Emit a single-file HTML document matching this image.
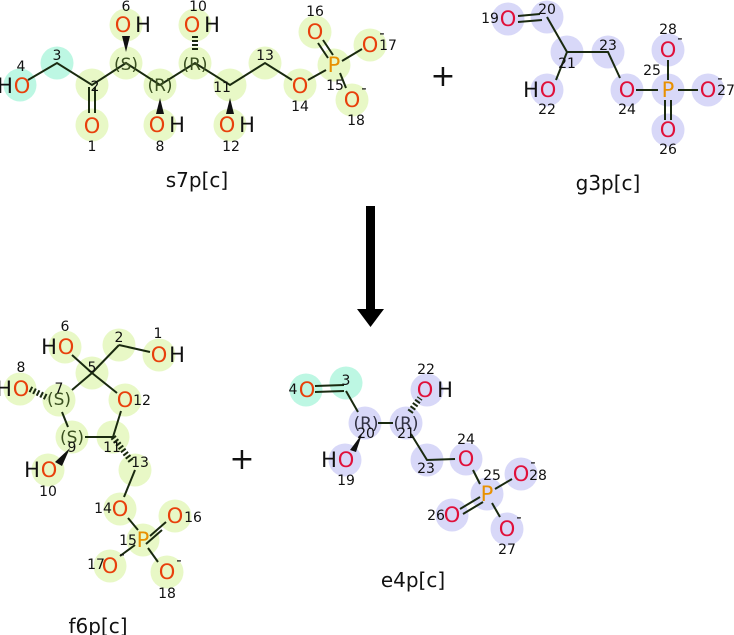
<!DOCTYPE html><html><head><style>body{margin:0;background:#fff}svg{display:block}
text{font-family:"DejaVu Sans","Liberation Sans",sans-serif}
.a{font-size:21px;text-anchor:middle;dominant-baseline:central}
.n{font-size:14px;fill:#111;text-anchor:middle;dominant-baseline:central}
.o{fill:#e8400c}.r{fill:#e0103a}.p{fill:#e89000}.k{fill:#111}.s{font-size:17px;fill:#3a5020;text-anchor:middle;dominant-baseline:central}
.t{font-size:20px;text-anchor:middle;fill:#111}
.g{fill:#e8f8c6}.c{fill:#bdf7e3}.b{fill:#d8d8f8}
circle{r:16.5px}
line,polyline{stroke:#1a2a10;stroke-width:2;fill:none}
</style></head><body>
<svg width="734" height="635" viewBox="0 0 734 635">
<!-- s7p -->
<g>
<circle class="c" cx="20" cy="85" r="16.5"/><circle class="c" cx="57" cy="63" r="16.5"/>
<circle class="g" cx="92" cy="85" r="16.5"/><circle class="g" cx="92" cy="125" r="16.5"/>
<circle class="g" cx="126" cy="63" r="16.5"/><circle class="g" cx="126" cy="25" r="16.5"/>
<circle class="g" cx="160" cy="85" r="16.5"/><circle class="g" cx="160" cy="125" r="16.5"/>
<circle class="g" cx="195" cy="63" r="16.5"/><circle class="g" cx="195" cy="25" r="16.5"/>
<circle class="g" cx="230" cy="85" r="16.5"/><circle class="g" cx="230" cy="125" r="16.5"/>
<circle class="g" cx="265" cy="63" r="16.5"/><circle class="g" cx="300" cy="85" r="16.5"/>
<circle class="g" cx="334" cy="65" r="16.5"/><circle class="g" cx="315" cy="32" r="16.5"/>
<circle class="g" cx="370" cy="45" r="16.5"/><circle class="g" cx="352" cy="100" r="16.5"/>
<polyline points="28,80 57,63 92,85 126,63 160,85 195,63 230,85 265,63 292,80"/>
<line x1="89" y1="87" x2="89" y2="113"/><line x1="95" y1="87" x2="95" y2="113"/>
<polygon points="126,52 122,36 130,36" fill="#111"/>
<polygon points="160,98 156,114 164,114" fill="#111"/>
<polygon points="230,98 226,114 234,114" fill="#111"/>
<line x1="195" y1="36" x2="195" y2="52" stroke-dasharray="2,2" style="stroke-width:6"/>
<line x1="308" y1="80" x2="326" y2="70"/><line x1="342" y1="61" x2="362" y2="49"/>
<line x1="340" y1="73" x2="346" y2="88"/>
<line x1="318" y1="43" x2="328" y2="58"/><line x1="323" y1="40" x2="333" y2="55"/>
<text class="a k" x="5" y="86">H</text><text class="a o" x="22" y="86">O</text>
<text class="a o" x="92" y="126">O</text>
<text class="a o" x="123" y="25">O</text><text class="a k" x="143" y="25">H</text>
<text class="a o" x="157" y="125">O</text><text class="a k" x="177" y="125">H</text>
<text class="a o" x="192" y="25">O</text><text class="a k" x="212" y="25">H</text>
<text class="a o" x="227" y="125">O</text><text class="a k" x="247" y="125">H</text>
<text class="a o" x="300" y="86">O</text><text class="a p" x="334" y="65">P</text>
<text class="a o" x="315" y="32">O</text><text class="a o" x="370" y="45">O</text><text class="a o" x="352" y="100">O</text>
<text class="a k" x="382" y="33" style="font-size:15px">-</text><text class="a k" x="364" y="88" style="font-size:15px">-</text>
<text class="s" x="126" y="65">(S)</text><text class="s" x="160" y="86">(R)</text><text class="s" x="195" y="65">(R)</text>
<text class="n" x="21" y="67">4</text><text class="n" x="57" y="56">3</text><text class="n" x="95" y="87">2</text>
<text class="n" x="92" y="147">1</text><text class="n" x="126" y="7">6</text><text class="n" x="160" y="147">8</text>
<text class="n" x="198" y="7">10</text><text class="n" x="231" y="147">12</text><text class="n" x="265" y="56">13</text>
<text class="n" x="222" y="88">11</text>
<text class="n" x="300" y="107">14</text><text class="n" x="335" y="86">15</text><text class="n" x="315" y="12">16</text>
<text class="n" x="388" y="46">17</text><text class="n" x="356" y="121">18</text>
<text class="t" x="197" y="187">s7p[c]</text>
</g>
<text x="443" y="86" style="font-size:30px;text-anchor:middle" fill="#111">+</text>
<!-- g3p -->
<g>
<circle class="b" cx="508" cy="19" r="16.5"/><circle class="b" cx="547" cy="17" r="16.5"/>
<circle class="b" cx="567" cy="52" r="16.5"/><circle class="b" cx="547" cy="90" r="16.5"/>
<circle class="b" cx="608" cy="52" r="16.5"/><circle class="b" cx="627" cy="90" r="16.5"/>
<circle class="b" cx="668" cy="90" r="16.5"/><circle class="b" cx="668" cy="130" r="16.5"/>
<circle class="b" cx="708" cy="90" r="16.5"/><circle class="b" cx="668" cy="50" r="16.5"/>
<line x1="518" y1="16" x2="540" y2="14"/><line x1="518" y1="22" x2="542" y2="20"/>
<polyline points="547,17 567,52 608,52 620,78"/><line x1="567" y1="52" x2="556" y2="80"/>
<line x1="636" y1="90" x2="658" y2="90"/><line x1="678" y1="90" x2="698" y2="90"/>
<line x1="668" y1="60" x2="668" y2="80"/>
<line x1="665" y1="100" x2="665" y2="120"/><line x1="671" y1="100" x2="671" y2="120"/>
<text class="a r" x="508" y="19">O</text><text class="a k" x="531" y="90">H</text><text class="a r" x="548" y="90">O</text>
<text class="a r" x="627" y="90">O</text><text class="a p" x="668" y="90">P</text>
<text class="a r" x="668" y="130">O</text><text class="a r" x="708" y="90">O</text><text class="a r" x="668" y="50">O</text>
<text class="a k" x="680" y="38" style="font-size:15px">-</text><text class="a k" x="720" y="78" style="font-size:15px">-</text>
<text class="n" x="490" y="19">19</text><text class="n" x="547" y="10">20</text><text class="n" x="567" y="64">21</text>
<text class="n" x="547" y="110">22</text><text class="n" x="608" y="46">23</text><text class="n" x="627" y="110">24</text>
<text class="n" x="652" y="71">25</text><text class="n" x="668" y="150">26</text><text class="n" x="726" y="91">27</text>
<text class="n" x="668" y="30">28</text>
<text class="t" x="608" y="190">g3p[c]</text>
</g>
<!-- arrow -->
<rect x="366" y="206" width="9" height="104" fill="#000"/>
<polygon points="357,309 384,309 370.5,327" fill="#000"/>
<!-- f6p -->
<g>
<circle class="g" cx="65" cy="347" r="16.5"/><circle class="g" cx="119" cy="345" r="16.5"/>
<circle class="g" cx="159" cy="355" r="16.5"/><circle class="g" cx="92" cy="373" r="16.5"/>
<circle class="g" cx="20" cy="389" r="16.5"/><circle class="g" cx="59" cy="400" r="16.5"/>
<circle class="g" cx="125" cy="400" r="16.5"/><circle class="g" cx="72" cy="437" r="16.5"/>
<circle class="g" cx="113" cy="437" r="16.5"/><circle class="g" cx="48" cy="470" r="16.5"/>
<circle class="g" cx="135" cy="470" r="16.5"/><circle class="g" cx="120" cy="509" r="16.5"/>
<circle class="g" cx="175" cy="516" r="16.5"/><circle class="g" cx="143" cy="540" r="16.5"/>
<circle class="g" cx="110" cy="566" r="16.5"/><circle class="g" cx="167" cy="572" r="16.5"/>
<line x1="72" y1="355" x2="92" y2="373"/><line x1="92" y1="373" x2="119" y2="345"/>
<line x1="119" y1="345" x2="150" y2="352"/><line x1="92" y1="373" x2="117" y2="393"/>
<line x1="92" y1="373" x2="72" y2="390"/><line x1="62" y1="412" x2="68" y2="427"/>
<line x1="85" y1="437" x2="113" y2="437"/><line x1="113" y1="437" x2="121" y2="411"/>
<line x1="135" y1="470" x2="124" y2="497"/><line x1="128" y1="518" x2="138" y2="530"/>
<line x1="150" y1="536" x2="166" y2="522"/><line x1="146" y1="544" x2="162" y2="530"/>
<line x1="135" y1="545" x2="120" y2="556"/><line x1="148" y1="548" x2="158" y2="562"/>
<line x1="113" y1="437" x2="132" y2="462" stroke-dasharray="2,2" style="stroke-width:6"/>
<line x1="30" y1="389" x2="48" y2="398" stroke-dasharray="2,2" style="stroke-width:6"/>
<polygon points="70,448 55,462 62,466" fill="#111"/>
<text class="a k" x="49" y="347">H</text><text class="a o" x="66" y="347">O</text>
<text class="a o" x="159" y="355">O</text><text class="a k" x="177" y="355">H</text>
<text class="a k" x="4" y="389">H</text><text class="a o" x="21" y="389">O</text>
<text class="a o" x="125" y="400">O</text>
<text class="a k" x="32" y="470">H</text><text class="a o" x="49" y="470">O</text>
<text class="a o" x="120" y="509">O</text><text class="a o" x="175" y="516">O</text>
<text class="a p" x="143" y="540">P</text><text class="a o" x="110" y="566">O</text><text class="a o" x="167" y="572">O</text>
<text class="a k" x="122" y="554" style="font-size:15px">-</text><text class="a k" x="179" y="560" style="font-size:15px">-</text>
<text class="s" x="59" y="400">(S)</text><text class="s" x="72" y="438">(S)</text>
<text class="n" x="65" y="327">6</text><text class="n" x="119" y="338">2</text><text class="n" x="158" y="334">1</text>
<text class="n" x="92" y="368">5</text><text class="n" x="21" y="368">8</text><text class="n" x="59" y="389">7</text>
<text class="n" x="142" y="401">12</text><text class="n" x="72" y="448">9</text><text class="n" x="112" y="448">11</text>
<text class="n" x="140" y="463">13</text><text class="n" x="48" y="492">10</text>
<text class="n" x="103" y="509">14</text><text class="n" x="193" y="518">16</text><text class="n" x="128" y="541">15</text>
<text class="n" x="96" y="565">17</text><text class="n" x="167" y="594">18</text>
<text class="t" x="98" y="633">f6p[c]</text>
</g>
<text x="242" y="469" style="font-size:30px;text-anchor:middle" fill="#111">+</text>
<!-- e4p -->
<g>
<circle class="c" cx="306" cy="390" r="16.5"/><circle class="c" cx="346" cy="383" r="16.5"/>
<circle class="b" cx="365" cy="423" r="16.5"/><circle class="b" cx="406" cy="423" r="16.5"/>
<circle class="b" cx="427" cy="390" r="16.5"/><circle class="b" cx="345" cy="460" r="16.5"/>
<circle class="b" cx="427" cy="460" r="16.5"/><circle class="b" cx="466" cy="459" r="16.5"/>
<circle class="b" cx="487" cy="494" r="16.5"/><circle class="b" cx="452" cy="515" r="16.5"/>
<circle class="b" cx="521" cy="474" r="16.5"/><circle class="b" cx="507" cy="529" r="16.5"/>
<line x1="315" y1="386" x2="344" y2="385"/><line x1="315" y1="392" x2="344" y2="391"/>
<line x1="346" y1="391" x2="358" y2="412"/><line x1="378" y1="423" x2="393" y2="423"/>
<polyline points="411,434 427,460 455,459"/>
<line x1="473" y1="470" x2="480" y2="484"/><line x1="495" y1="489" x2="512" y2="479"/>
<line x1="492" y1="503" x2="500" y2="517"/>
<line x1="460" y1="509" x2="480" y2="497"/><line x1="463" y1="514" x2="483" y2="502"/>
<line x1="410" y1="412" x2="420" y2="398" stroke-dasharray="2,2" style="stroke-width:6"/>
<polygon points="362,434 350,450 356,452" fill="#111"/>
<text class="a o" x="307" y="390">O</text>
<text class="a r" x="425" y="390">O</text><text class="a k" x="445" y="390">H</text>
<text class="a k" x="329" y="460">H</text><text class="a r" x="346" y="460">O</text>
<text class="a r" x="466" y="459">O</text><text class="a p" x="487" y="494">P</text>
<text class="a r" x="452" y="515">O</text><text class="a r" x="521" y="474">O</text><text class="a r" x="507" y="529">O</text>
<text class="a k" x="533" y="462" style="font-size:15px">-</text><text class="a k" x="519" y="517" style="font-size:15px">-</text>
<text class="s" x="366" y="424" style="fill:#334">(R)</text><text class="s" x="406" y="424" style="fill:#334">(R)</text>
<text class="n" x="293" y="390">4</text><text class="n" x="346" y="381">3</text>
<text class="n" x="366" y="434">20</text><text class="n" x="406" y="434">21</text>
<text class="n" x="426" y="370">22</text><text class="n" x="346" y="481">19</text>
<text class="n" x="426" y="469">23</text><text class="n" x="466" y="440">24</text>
<text class="n" x="492" y="476">25</text><text class="n" x="436" y="516">26</text>
<text class="n" x="538" y="476">28</text><text class="n" x="507" y="550">27</text>
<text class="t" x="413" y="587">e4p[c]</text>
</g>
</svg></body></html>
